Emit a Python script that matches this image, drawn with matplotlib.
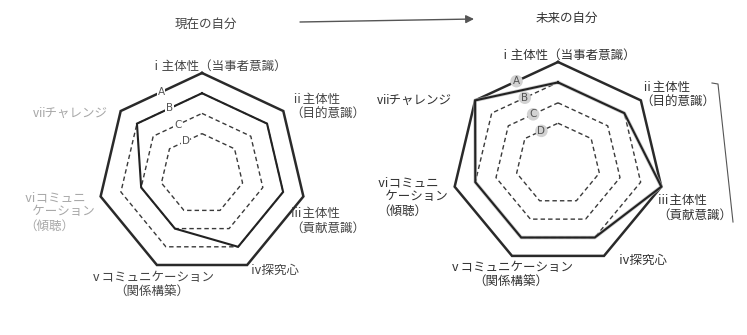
import numpy as np
import matplotlib
matplotlib.use('Agg')
import matplotlib.pyplot as plt

plt.rcParams['font.family'] = ['Noto Sans CJK JP', 'DejaVu Sans']

# ---- data ----
axis_labels = ['ⅰ主体性（当事者意識）', 'ⅱ主体性\n（目的意識）', 'ⅲ主体性\n（貢献意識）',
               'ⅳ探究心', 'ⅴコミュニケーション\n（関係構築）', 'ⅵコミュニ\n   ケーション\n（傾聴）',
               'ⅶチャレンジ']
level_values = [5, 4, 3, 2]
level_names = ['A', 'B', 'C', 'D']
present_self = [4, 4, 4, 4, 3, 3, 4]
future_self = [4, 4, 5, 4, 4, 4, 5]
titles = ['現在の自分', '未来の自分']

W, H = 747, 335
fig = plt.figure(figsize=(W / 100, H / 100), dpi=100)
fig.patch.set_facecolor('white')

n = len(axis_labels)
ang = np.deg2rad(90 - np.arange(n) * 360 / n)


def make_axes(cx, cy, rx, ry):
    ax = fig.add_axes([0, 0, 1, 1])
    sx, sy = rx / 5, ry / 5
    ax.set_xlim(-cx / sx, (W - cx) / sx)
    ax.set_ylim(-(H - cy) / sy, cy / sy)
    ax.axis('off')
    ax.patch.set_alpha(0)
    return ax, (lambda px, py: ((px - cx) / sx, (cy - py) / sy))


def closed(vals):
    v = np.asarray(vals, float)
    x = v * np.cos(ang)
    y = v * np.sin(ang)
    return np.append(x, x[0]), np.append(y, y[0])


def draw_chart(ax, vals, label_pos, label_col, ring_style, grey_under=False):
    for lv, nm in zip(level_values, level_names):
        x, y = closed([lv] * n)
        if nm == 'A':
            ax.plot(x, y, color='#2a2a2a', lw=1.8, solid_joinstyle='miter')
        else:
            ax.plot(x, y, color='#3a3a3a', lw=1.0, ls=(0, (3.2, 2.2)))
    x, y = closed(vals)
    if grey_under:
        ax.plot(x, y, color='#b5b5b5', lw=2.6, alpha=0.7)
    ax.plot(x, y, color='#222222', lw=1.5, solid_joinstyle='miter')
    for lv, nm in zip(level_values, level_names):
        mx = lv * (np.cos(ang[0]) + np.cos(ang[-1])) / 2
        my = lv * (np.sin(ang[0]) + np.sin(ang[-1])) / 2
        ax.text(mx, my, nm, fontsize=7.5, color='#555555', ha='center', va='center',
                family='DejaVu Sans', bbox=ring_style)
    for txt, (px, py, ha), col in zip(axis_labels, label_pos, label_col):
        ax.text(px, py, txt, fontsize=9, color=col, ha=ha, va='center',
                multialignment='left' if ha == 'left' else 'center', linespacing=1.15)


# left chart: present self
axL, tL = make_axes(202, 174, 104, 101)
posL = [tL(218, 66) + ('center',), tL(290, 107) + ('left',), tL(290, 221) + ('left',),
        tL(250, 270) + ('left',), tL(152, 285) + ('center',), tL(24, 212) + ('left',),
        tL(33, 113) + ('left',)]
colL = ['#444444', '#444444', '#444444', '#444444', '#444444', '#a8a8a8', '#a8a8a8']
draw_chart(axL, present_self, posL, colL,
           dict(boxstyle='square,pad=0.05', fc='white', ec='none'))
axL.text(*tL(206, 25), titles[0], fontsize=9, color='#444444', ha='center', va='center')
axL.annotate('', xy=tL(474, 19), xytext=tL(300, 22),
             arrowprops=dict(arrowstyle='-|>', color='#555555', lw=1.0,
                             mutation_scale=12, shrinkA=0, shrinkB=0))

# right chart: future self
axR, tR = make_axes(558, 164, 106, 102)
posR = [tR(567, 55) + ('center',), tR(640, 95) + ('left',), tR(657, 208) + ('left',),
        tR(618, 260) + ('left',), tR(511, 275) + ('center',), tR(377, 197) + ('left',),
        tR(377, 100) + ('left',)]
colR = ['#333333'] * n
draw_chart(axR, future_self, posR, colR,
           dict(boxstyle='circle,pad=0.12', fc='#d2d2d2', ec='none'), grey_under=True)
axR.text(*tR(567, 18), titles[1], fontsize=9, color='#333333', ha='center', va='center')
bx0, by0 = tR(718, 84)
bx1, by1 = tR(733, 222)
bxa, bya = tR(712, 83)
axR.plot([bxa, bx0, bx1], [bya, by0, by1], color='#555555', lw=0.8)

fig.savefig('out.png', dpi=100, facecolor='white')
